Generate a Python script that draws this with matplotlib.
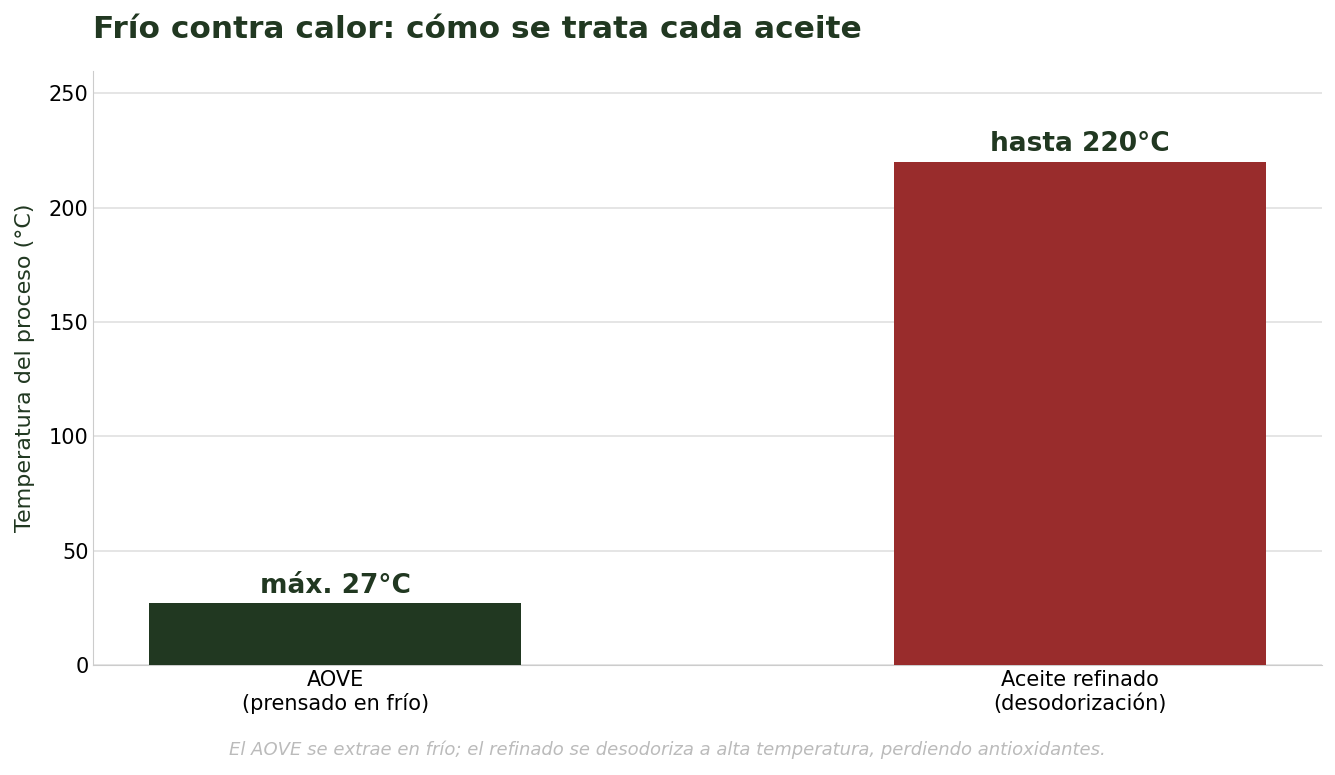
import matplotlib
matplotlib.use("Agg")
import matplotlib.pyplot as plt

categories = ["AOVE\n(prensado en frío)", "Aceite refinado\n(desodorización)"]
values = [27, 220]
labels = ["máx. 27°C", "hasta 220°C"]
colors = ["#213821", "#992c2c"]

fig = plt.figure(figsize=(13.35, 7.75), dpi=100)
ax = fig.add_axes([0.07, 0.142, 0.92, 0.767])
x = range(len(values))
ax.bar(x, values, width=0.5, color=colors, zorder=3)
for i, (v, l) in enumerate(zip(values, labels)):
    ax.text(i, v + 2, l, ha="center", va="bottom", fontsize=19, fontweight="bold", color="#213821")
ax.set_xticks(list(x))
ax.set_xticklabels(categories, fontsize=15)
ax.set_xlim(-0.325, 1.325)
ax.set_ylim(0, 260)
ax.set_yticks([0, 50, 100, 150, 200, 250])
ax.tick_params(axis="y", labelsize=15, length=0)
ax.tick_params(axis="x", length=0)
ax.grid(axis="y", color="#e0e0e0", linewidth=1.2, zorder=0)
for s in ["top", "right"]:
    ax.spines[s].set_visible(False)
for s in ["left", "bottom"]:
    ax.spines[s].set_color("#cccccc")
ax.set_ylabel("Temperatura del proceso (°C)", fontsize=16, color="#213821", labelpad=10)
fig.text(0.07, 0.962, "Frío contra calor: cómo se trata cada aceite", fontsize=22.5, fontweight="bold", color="#213821", va="center")
fig.text(0.5, 0.032, "El AOVE se extrae en frío; el refinado se desodoriza a alta temperatura, perdiendo antioxidantes.",
         ha="center", va="center", fontsize=13, style="italic", color="#bbbbbb")
fig.savefig("out.png")
